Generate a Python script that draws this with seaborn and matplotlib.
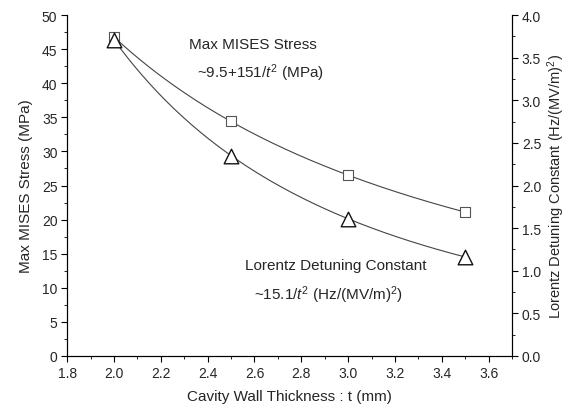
import numpy as np
import pandas as pd
import matplotlib
matplotlib.use("Agg")
import matplotlib.pyplot as plt
import seaborn as sns
from matplotlib.ticker import MultipleLocator

sns.set_theme(style="ticks")
plt.rcParams['font.family'] = ['Liberation Sans', 'DejaVu Sans']
plt.rcParams['mathtext.fontset'] = 'custom'
plt.rcParams['mathtext.rm'] = 'Liberation Sans'
plt.rcParams['mathtext.it'] = 'Liberation Sans:italic'

# data
thickness = [2.0, 2.5, 3.0, 3.5]
stress_mpa = [46.8, 34.4, 26.5, 21.1]
lorentz_kl = [3.71, 2.35, 1.61, 1.16]

df = pd.DataFrame({"t": thickness, "stress": stress_mpa, "kl": lorentz_kl})

# smooth fitted curves (least-squares in 1/t)
tt = np.linspace(min(thickness), max(thickness), 200)
cs = np.polyfit(1 / df["t"], df["stress"], 2)
ck = np.polyfit(1 / df["t"], df["kl"], 2)
fit = pd.DataFrame({"t": tt, "stress": np.polyval(cs, 1 / tt), "kl": np.polyval(ck, 1 / tt)})

fig = plt.figure(figsize=(5.69, 4.14), dpi=100)
ax = fig.add_axes([0.118, 0.138, 0.782, 0.823])
ax2 = ax.twinx()

lc = "#444444"
sns.lineplot(data=fit, x="t", y="stress", ax=ax, color=lc, lw=0.8)
sns.scatterplot(data=df, x="t", y="stress", ax=ax, marker="s", s=50,
                facecolor="white", edgecolor="#555555", linewidth=0.8, zorder=3)
sns.lineplot(data=fit, x="t", y="kl", ax=ax2, color=lc, lw=0.8)
sns.scatterplot(data=df, x="t", y="kl", ax=ax2, marker="^", s=110,
                facecolor="white", edgecolor="#111111", linewidth=1.0, zorder=4)

ax.set_xlim(1.8, 3.7)
ax.set_ylim(0, 50)
ax2.set_ylim(0, 4.0)

ax.xaxis.set_major_locator(MultipleLocator(0.2))
ax.xaxis.set_minor_locator(MultipleLocator(0.1))
ax.yaxis.set_major_locator(MultipleLocator(5))
ax.yaxis.set_minor_locator(MultipleLocator(2.5))
ax2.yaxis.set_major_locator(MultipleLocator(0.5))
ax2.yaxis.set_minor_locator(MultipleLocator(0.25))
ax.set_xticks(np.arange(1.8, 3.61, 0.2))
ax.set_xticklabels([f"{v:.1f}" for v in np.arange(1.8, 3.61, 0.2)])

for a in (ax, ax2):
    a.tick_params(which="major", length=4, width=0.8, direction="out", labelsize=10, color="black", pad=3)
    a.tick_params(which="minor", length=2, width=0.6, direction="out", color="black")
    for sp in a.spines.values():
        sp.set_color("black")
        sp.set_linewidth(0.8)

ax.spines["top"].set_visible(False)
ax2.spines["top"].set_visible(False)

ax.set_xlabel("Cavity Wall Thickness : t (mm)", fontsize=11, labelpad=7)
ax.set_ylabel("Max MISES Stress (MPa)", fontsize=11, labelpad=6)
ax2.set_ylabel("Lorentz Detuning Constant (Hz/(MV/m)$^2$)", fontsize=10.5, labelpad=3)

ax.text(2.32, 45.8, "Max MISES Stress", fontsize=11, ha="left", va="center")
ax.text(2.355, 41.6, "~9.5+151/$t^2$ (MPa)", fontsize=11, ha="left", va="center")
ax.text(2.56, 13.3, "Lorentz Detuning Constant", fontsize=11, ha="left", va="center")
ax.text(2.60, 9.0, "~15.1/$t^2$ (Hz/(MV/m)$^2$)", fontsize=11, ha="left", va="center")

fig.savefig("out.png", dpi=100)
